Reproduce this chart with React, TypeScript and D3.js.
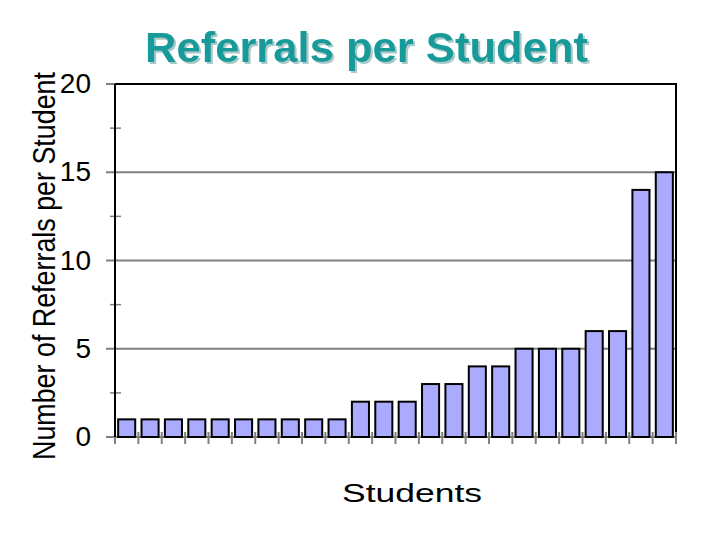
import React from "react";
import * as d3 from "d3";

const students: string[] = Array.from({ length: 24 }, (_, i) => `S${i + 1}`);
const referrals: number[] = [1, 1, 1, 1, 1, 1, 1, 1, 1, 1, 2, 2, 2, 3, 3, 4, 4, 5, 5, 5, 6, 6, 14, 15];
const yTicks: number[] = [0, 5, 10, 15, 20];
const yMinorTicks: number[] = [2.5, 7.5, 12.5, 17.5];

const W = 720;
const H = 540;
const M = { left: 115, right: 44, top: 84, bottom: 103 };

export default function App() {
  const x = d3
    .scaleBand<string>()
    .domain(students)
    .range([M.left, W - M.right])
    .paddingInner(0.27)
    .paddingOuter(0.135);
  const y = d3.scaleLinear().domain([0, 20]).range([H - M.bottom, M.top]);
  const x0 = M.left;
  const x1 = W - M.right;
  const step = x.step();
  const bounds = d3.range(students.length + 1).map((i) => x0 + i * step);

  return (
    <svg width={W} height={H} style={{ position: "absolute", left: 0, top: 0, background: "#fff" }}>
      <defs>
        <filter id="tshadow" x="-5%" y="-20%" width="110%" height="150%">
          <feDropShadow dx={2} dy={2} stdDeviation={0.6} floodColor="#a9c9c9" floodOpacity={1} />
        </filter>
      </defs>
      {/* title with shadow */}
      <text
        x={366.5}
        y={62}
        textAnchor="middle"
        fill="#159a9a"
        fontFamily="'Liberation Sans', Arial, sans-serif"
        fontWeight="bold"
        fontSize={42}
        textLength={443}
        lengthAdjust="spacingAndGlyphs"
        filter="url(#tshadow)"
      >
        Referrals per Student
      </text>

      {/* grid lines */}
      {yTicks.filter((t) => t > 0 && t < 20).map((t) => (
        <line key={t} x1={106} x2={x1} y1={y(t)} y2={y(t)} stroke="#808080" strokeWidth={2} />
      ))}
      {/* baseline */}
      <line x1={106} x2={x1} y1={y(0)} y2={y(0)} stroke="#808080" strokeWidth={2} />
      {/* top and right border */}
      <line x1={106} x2={x1} y1={y(20)} y2={y(20)} stroke="#808080" strokeWidth={2} />
      <line x1={x0} x2={x1 + 1} y1={y(20)} y2={y(20)} stroke="#000" strokeWidth={2} />
      <line x1={x1} x2={x1} y1={y(20)} y2={y(0)} stroke="#000" strokeWidth={2} />
      {/* minor ticks */}
      {yMinorTicks.map((t) => (
        <line key={t} x1={110} x2={121} y1={y(t)} y2={y(t)} stroke="#808080" strokeWidth={1.5} />
      ))}
      {/* x ticks */}
      {bounds.map((b, i) => (
        <line key={i} x1={b} x2={b} y1={y(0) - 5} y2={y(0) + 7} stroke="#808080" strokeWidth={2} />
      ))}

      {/* bars */}
      {referrals.map((v, i) => (
        <rect
          key={i}
          x={x(students[i])!}
          y={y(v)}
          width={x.bandwidth()}
          height={y(0) - y(v)}
          fill="#aaaaff"
          stroke="#000"
          strokeWidth={2}
        />
      ))}

      {/* y axis line */}
      <line x1={x0} x2={x0} y1={y(20)} y2={y(0)} stroke="#000" strokeWidth={2} />

      {/* y tick labels */}
      <g fontFamily="'Liberation Sans', Arial, sans-serif" fontSize={28} fill="#000">
        {yTicks.map((t) => (
          <text key={t} x={91} y={y(t)} dy="0.33em" textAnchor="end">
            {t}
          </text>
        ))}
      </g>

      {/* y axis title */}
      <text
        transform="translate(55,460) rotate(-90)"
        fontFamily="'Liberation Sans', Arial, sans-serif"
        fontSize={31}
        textLength={388}
        lengthAdjust="spacingAndGlyphs"
        fill="#000"
      >
        Number of Referrals per Student
      </text>

      {/* x axis title */}
      <text
        x={342}
        y={502}
        fontFamily="'Liberation Sans', Arial, sans-serif"
        fontSize={26}
        textLength={140}
        lengthAdjust="spacingAndGlyphs"
        fill="#000"
      >
        Students
      </text>
    </svg>
  );
}
